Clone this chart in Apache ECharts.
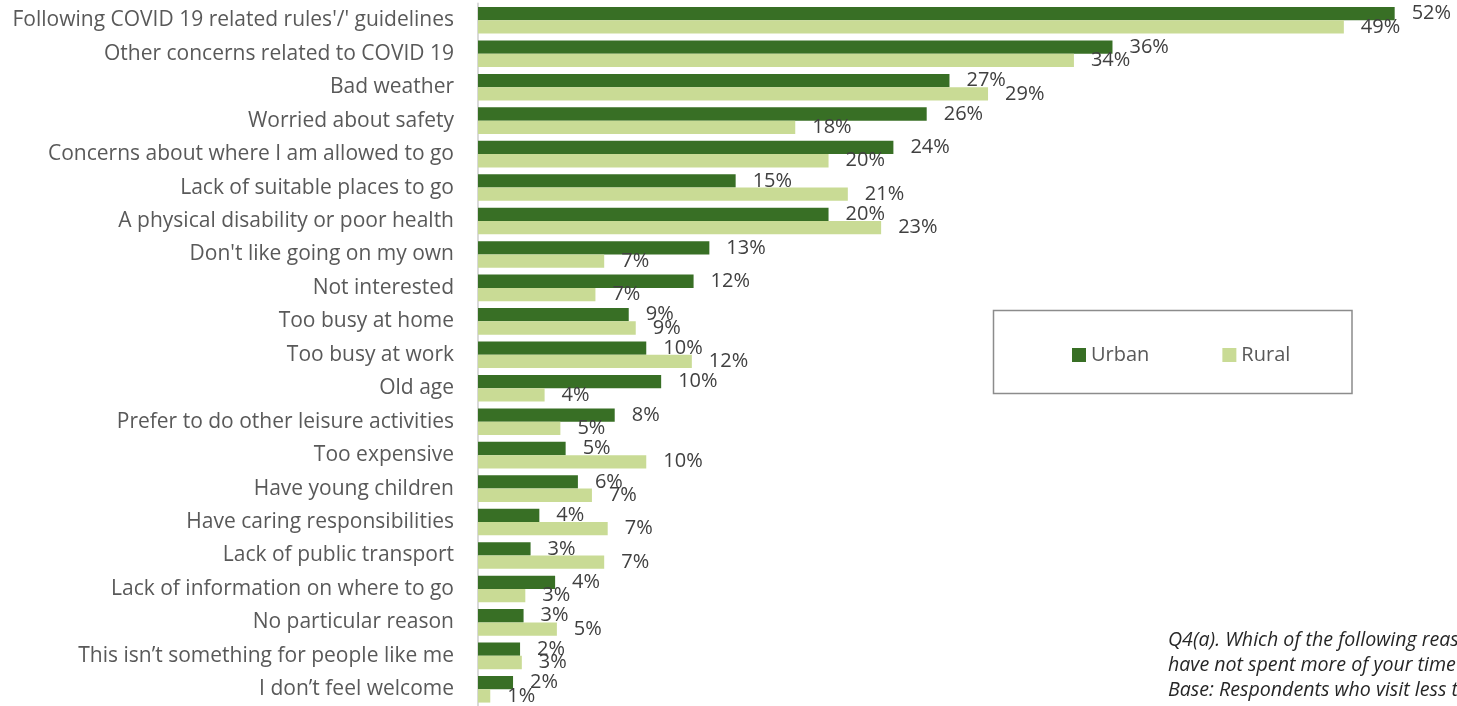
<!DOCTYPE html>
<html>
<head>
<meta charset="utf-8">
<script src="https://cdn.jsdelivr.net/npm/echarts@6/dist/echarts.min.js"></script>
<style>
html,body{margin:0;padding:0;background:#fff;}
#c{width:1457px;height:706px;}
</style>
</head>
<body>
<div id="c"></div>
<script>
const categories = [
  "Following COVID 19 related rules'/' guidelines",
  "Other concerns related to COVID 19",
  "Bad weather",
  "Worried about safety",
  "Concerns about where I am allowed to go",
  "Lack of suitable places to go",
  "A physical disability or poor health",
  "Don't like going on my own",
  "Not interested",
  "Too busy at home",
  "Too busy at work",
  "Old age",
  "Prefer to do other leisure activities",
  "Too expensive",
  "Have young children",
  "Have caring responsibilities",
  "Lack of public transport",
  "Lack of information on where to go",
  "No particular reason",
  "This isn\u2019t something for people like me",
  "I don\u2019t feel welcome"
];
const urban = [52.3, 36.2, 26.9, 25.6, 23.7, 14.7, 20.0, 13.2, 12.3, 8.6, 9.6, 10.45, 7.8, 5.0, 5.7, 3.5, 3.0, 4.4, 2.6, 2.4, 2.0];
const rural = [49.4, 34.0, 29.1, 18.1, 20.0, 21.1, 23.0, 7.2, 6.7, 9.0, 12.2, 3.8, 4.7, 9.6, 6.5, 7.4, 7.2, 2.7, 4.5, 2.5, 0.7];
const seriesNames = ["Urban", "Rural"];
const footnote = [
  "Q4(a). Which of the following reasons",
  "have not spent more of your time outdoors",
  "Base: Respondents who visit less than"
];

const chart = echarts.init(document.getElementById('c'), null, {renderer: 'canvas'});
const FONT = "'Open Sans', 'Noto Sans', sans-serif";
const labelCfg = {
  show: true,
  position: 'right',
  distance: 17,
  color: '#404040',
  fontSize: 20,
  fontFamily: FONT,
  formatter: p => Math.round(p.value) + '%'
};
chart.setOption({
  animation: false,
  backgroundColor: '#ffffff',
  grid: {left: 478, right: 15, top: 3.6, bottom: -2.2, containLabel: false},
  xAxis: {
    type: 'value', min: 0, max: 55,
    show: false
  },
  yAxis: {
    type: 'category', data: categories, inverse: true,
    axisLine: {show: true, lineStyle: {color: '#d9d9d9', width: 2}},
    axisTick: {show: false},
    axisLabel: {color: '#595959', fontSize: 21, fontFamily: FONT, margin: 24}
  },
  legend: {
    data: seriesNames,
    left: 1067, top: 340,
    itemWidth: 14, itemHeight: 14, itemGap: 73,
    icon: 'rect',
    textStyle: {color: '#595959', fontSize: 20, fontFamily: FONT}
  },
  graphic: [
    {type: 'rect', shape: {x: 993.5, y: 310.5, width: 358.5, height: 83}, style: {fill: 'none', stroke: '#8c8c8c', lineWidth: 1.5}, z: 0},
    {type: 'text', left: 1168, top: 628, style: {text: footnote.join('\n'), font: "italic 19.6px " + FONT, fill: '#262626', lineHeight: 25}}
  ],
  series: [
    {name: seriesNames[0], type: 'bar', data: urban, barWidth: 13.3, barGap: '0%', itemStyle: {color: '#386F25'}, label: labelCfg},
    {name: seriesNames[1], type: 'bar', data: rural, barWidth: 13.3, barGap: '0%', itemStyle: {color: '#C9DB95'}, label: labelCfg}
  ]
});
</script>
</body>
</html>
